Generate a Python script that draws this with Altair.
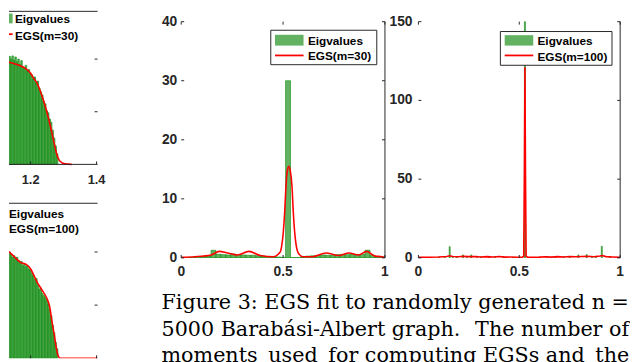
import altair as alt
import pandas as pd

GREEN = "#62b262"
EDGE = "#0e8a0e"
RED = "#ff0000"
INK = "#262626"
SANS = "Liberation Sans"
SERIF = "DejaVu Serif"

# ---------------- data ----------------
# middle panel (m = 30): 41 equal-width bins on [0, 1]
p1_bin_count = 41
p1_bar_heights = [0.05, 0.05, 0.1, 0.2, 0.25, 0.3, 1.28, 0.6, 0.55, 0.5,
                  0.65, 0.45, 0.5, 0.45, 0.45, 0.35, 0.3, 0.25, 0.2, 0.15,
                  0.1, 30.0, 0.05, 0.05, 0.1, 0.3, 0.35, 0.4, 0.5, 0.45,
                  0.4, 0.55, 0.6, 0.55, 0.6, 0.55, 0.6, 1.3, 0.45, 0.2, 0.15]
p1_egs_x = [0.0, 0.066, 0.147, 0.187, 0.227, 0.275, 0.332, 0.388, 0.452, 0.485,
            0.493, 0.501, 0.508, 0.514, 0.521, 0.528, 0.535, 0.544, 0.550, 0.557,
            0.565, 0.573, 0.597, 0.646, 0.710, 0.774, 0.823, 0.871, 0.911, 0.952,
            0.985, 1.0]
p1_egs_y = [0.1, 0.2, 0.5, 1.1, 0.83, 0.5, 1.1, 0.4, 0.2, 0.95,
            2.0, 4.3, 7.8, 12.0, 14.8, 15.5, 14.8, 12.0, 7.8, 4.3,
            2.0, 0.95, 0.2, 0.2, 0.83, 0.4, 0.83, 0.5, 1.1, 0.3,
            0.2, 0.05]

# right panel (m = 100): narrow bins
p2_bin_width = 0.005
p2_bar_x = [0.06, 0.10, 0.13, 0.155, 0.17, 0.19, 0.221, 0.24, 0.262, 0.29,
            0.31, 0.35, 0.38, 0.42, 0.47, 0.528, 0.60, 0.64, 0.68, 0.72,
            0.75, 0.793, 0.834, 0.86, 0.88, 0.909, 0.95]
p2_bar_h = [0.4, 0.6, 0.8, 7.1, 1.0, 0.9, 1.9, 0.8, 1.9, 1.1,
            0.7, 0.9, 0.6, 0.8, 0.5, 150.0, 0.5, 0.7, 0.9, 0.8,
            0.6, 1.9, 2.1, 0.9, 1.0, 7.3, 0.6]
p2_egs_x = [0.0, 0.05, 0.10, 0.14, 0.155, 0.17, 0.20, 0.22, 0.25, 0.28,
            0.31, 0.34, 0.37, 0.40, 0.43, 0.46, 0.49, 0.515, 0.522, 0.525,
            0.528, 0.531, 0.534, 0.541, 0.57, 0.60, 0.63, 0.66, 0.69, 0.72,
            0.75, 0.78, 0.81, 0.84, 0.87, 0.90, 0.91, 0.93, 0.96, 1.0]
p2_egs_y = [0.3, 0.4, 0.6, 0.9, 1.3, 0.9, 0.7, 1.0, 0.8, 0.9,
            0.6, 0.8, 0.6, 0.9, 0.5, 0.6, 0.4, 0.5, 1.0, 50.0,
            121.0, 50.0, 1.0, 0.5, 0.4, 0.5, 0.7, 0.5, 0.8, 0.6,
            0.9, 0.7, 0.9, 1.0, 0.7, 1.2, 1.5, 0.8, 0.6, 0.4]

# left (cut-off) panels of the previous figure
left_bin_start = 1.134
left_bin_width = 0.0045
tl_bar_h = [2.05, 2.0, 2.06, 1.98, 2.04, 1.95, 2.0, 1.9, 1.97, 1.85,
            1.83, 1.88, 1.78, 1.8, 1.72, 1.7, 1.62, 1.66, 1.55, 1.58,
            1.45, 1.38, 1.32, 1.2, 1.15, 1.02, 0.98, 0.86, 0.8, 0.65,
            0.5, 0.35, 0.2]
bl_bar_h = [2.0, 1.95, 1.9, 1.93, 1.86, 1.9, 1.84, 1.8, 1.82, 1.74,
            1.78, 1.72, 1.75, 1.68, 1.66, 1.6, 1.55, 1.48, 1.5, 1.38,
            1.3, 1.32, 1.22, 1.18, 1.14, 1.1, 1.02, 0.92, 0.8, 0.62,
            0.48, 0.3, 0.18]
tl_egs_x = [1.1104, 1.1403, 1.1701, 1.185, 1.2, 1.2099, 1.2199, 1.2299, 1.2398,
            1.2498, 1.2597, 1.2697, 1.2776, 1.2876, 1.3045, 1.3244]
tl_egs_y = [1.98, 1.93, 1.87, 1.82, 1.73, 1.63, 1.54, 1.38, 1.2,
            0.98, 0.73, 0.45, 0.23, 0.07, 0.01, 0.0]
bl_egs_x = [1.1104, 1.1303, 1.1453, 1.1602, 1.1701, 1.185, 1.2, 1.2099, 1.2199,
            1.2348, 1.2498, 1.2577, 1.2647, 1.2716, 1.2776, 1.2846, 1.2896, 1.403]
bl_egs_y = [2.06, 2.02, 1.94, 1.85, 1.80, 1.77, 1.68, 1.56, 1.43,
            1.28, 1.12, 0.97, 0.69, 0.44, 0.2, 0.03, 0.0, 0.0]

p1_yticks = [0, 10, 20, 30, 40]
p2_yticks = [0, 50, 100, 150]
mid_xticks = [0, 0.5, 1]
mid_xlabels = ["0", "0.5", "1"]
left_xticks = [1.2, 1.4]
left_xlabels = ["1.2", "1.4"]
left_yticks = [1, 2]

# caption (justified in the paper: a few wider gaps kept with thin spaces)
caption_lines = [
    "Figure 3: EGS fit to randomly generated n =",
    "5000 Barabási-Albert graph.\u2009\u2009 The number of",
    "moments\u2009 used\u2009 for computing EGSs and\u2009 the",
]


# ---------------- helpers ----------------
def bins_df(lefts, heights, width):
    return pd.DataFrame({"x0": lefts, "x1": [a + width for a in lefts],
                         "h": heights, "z": [0] * len(heights)})


def one():
    return alt.Chart(pd.DataFrame({"a": [0]}))


def rule_v(x, y0, y1, color=INK, w=1):
    return one().mark_rule(color=color, strokeWidth=w).encode(
        x=alt.value(x), y=alt.value(y0), y2=alt.value(y1))


def rule_h(y, x0, x1, color=INK, w=1):
    return one().mark_rule(color=color, strokeWidth=w).encode(
        y=alt.value(y), x=alt.value(x0), x2=alt.value(x1))


def box(x0, x1, y0, y1, fill, stroke=None):
    kw = dict(fill=fill)
    if stroke:
        kw.update(stroke=stroke, strokeWidth=1)
    else:
        kw.update(strokeWidth=0)
    return one().mark_rect(**kw).encode(
        x=alt.value(x0), x2=alt.value(x1), y=alt.value(y0), y2=alt.value(y1))


def label(txt, x, y, size=12):
    return one().mark_text(text=txt, align="left", baseline="alphabetic",
                           font=SANS, fontSize=size, fontWeight="bold",
                           color="black").encode(x=alt.value(x), y=alt.value(y))


def legend(bx0, bx1, by0, by1, px0, px1, py0, py1, ly, tx, t1y, t2y, name, stroke=INK):
    parts = [box(bx0, bx1, by0, by1, "white", stroke)]
    if px1 > px0:
        parts.append(box(px0, px1, py0, py1, GREEN))
        parts.append(rule_h(ly, px0, px1, RED, 1.8))
    parts.append(label("Eigvalues", tx, t1y))
    parts.append(label(name, tx, t2y))
    return parts


def mid_panel(bars, egs_x, egs_y, ydom, yticks, W, H, top, lpad, leg, interp, extra=()):
    xs = alt.Scale(domain=[0, 1], range=[0, W], nice=False)
    ys = alt.Scale(domain=ydom, range=[H, top], nice=False)
    ax_x = alt.Axis(values=mid_xticks, title=None, grid=False, ticks=False,
                    labels=False, domainColor=INK)
    ax_y = alt.Axis(values=yticks, title=None, grid=False, ticks=False,
                    labels=False, domainColor=INK)
    bar = alt.Chart(bars).mark_rect(fill=GREEN, stroke=EDGE, strokeWidth=0.6, clip=True).encode(
        x=alt.X("x0:Q", scale=xs, axis=ax_x), x2="x1:Q",
        y=alt.Y("h:Q", scale=ys, axis=ax_y), y2="z:Q")
    line = alt.Chart(pd.DataFrame({"x": egs_x, "y": egs_y})).mark_line(
        color=RED, strokeWidth=1.6, clip=True, interpolate=interp).encode(
        x=alt.X("x:Q", scale=xs, axis=None), y=alt.Y("y:Q", scale=ys, axis=None))
    ydf = pd.DataFrame({"v": yticks, "t": [str(v) for v in yticks]})
    xdf = pd.DataFrame({"u": mid_xticks, "t": mid_xlabels})
    tl = alt.Chart(ydf).mark_rule(color=INK).encode(
        y=alt.Y("v:Q", scale=ys, axis=None), x=alt.value(0), x2=alt.value(3))
    tr = alt.Chart(ydf).mark_rule(color=INK).encode(
        y=alt.Y("v:Q", scale=ys, axis=None), x=alt.value(W - 3), x2=alt.value(W))
    tt = alt.Chart(xdf).mark_rule(color=INK).encode(
        x=alt.X("u:Q", scale=xs, axis=None), y=alt.value(top), y2=alt.value(top + 3))
    tb = alt.Chart(xdf).mark_rule(color=INK).encode(
        x=alt.X("u:Q", scale=xs, axis=None), y=alt.value(H - 3), y2=alt.value(H))
    xl_ = alt.Chart(xdf).mark_text(font=SANS, fontSize=14, fontWeight="bold", color=INK,
                                   align="center", baseline="middle").encode(
        x=alt.X("u:Q", scale=xs, axis=None), y=alt.value(H + 14), text="t:N")
    yl_ = alt.Chart(ydf).mark_text(font=SANS, fontSize=14, fontWeight="bold", color=INK,
                                   align="right", baseline="middle").encode(
        y=alt.Y("v:Q", scale=ys, axis=None), x=alt.value(-lpad), text="t:N")
    frame = rule_v(W, top, H)
    layers = [bar, line, tl, tr, tt, tb, frame, xl_, yl_] + legend(*leg) + list(extra)
    return alt.layer(*layers).properties(width=W, height=H)


# ---------------- middle panels ----------------
TOP = 11
H_MID = 251
p1_lefts = [k / p1_bin_count for k in range(p1_bin_count)]
p1 = mid_panel(bins_df(p1_lefts, p1_bar_heights, 1 / p1_bin_count),
               p1_egs_x, p1_egs_y, [0, 40], p1_yticks, 207, H_MID, TOP, 4,
               (91, 198.7, 19.7, 54.7, 95.3, 124.3, 24.3, 35.3, 45.3, 128.7, 34.3, 50.3, "EGS(m=30)"),
               "monotone",
               extra=[one().mark_text(text=caption_lines, lineHeight=27, align="left",
                                      baseline="alphabetic", font=SERIF, fontSize=21,
                                      color="black").encode(x=alt.value(-20), y=alt.value(303))])

p2_lefts = [c - p2_bin_width / 2 for c in p2_bar_x]
p2 = mid_panel(bins_df(p2_lefts, p2_bar_h, p2_bin_width),
               p2_egs_x, p2_egs_y, [0, 150], p2_yticks, 205, H_MID, TOP, 6,
               (83.3, 196.7, 21, 55.3, 87.7, 116.7, 24.7, 35.3, 45.3, 121, 34.3, 51.3, "EGS(m=100)"),
               "linear")

# ---------------- left (cut-off) panels ----------------
LW = 90
xl = alt.Scale(domain=[1.1343, 1.403], range=[0, LW], nice=False)
ytl = alt.Scale(domain=[0, 2.916], range=[156, 0], nice=False)
ybl = alt.Scale(domain=[0, 2.926], range=[353, 195], nice=False)
left_lefts = [left_bin_start + k * left_bin_width for k in range(len(tl_bar_h))]
ax_left = alt.Axis(title=None, grid=False, ticks=False, labels=False, domainColor=INK)

tl_bars = alt.Chart(bins_df(left_lefts, tl_bar_h, left_bin_width)).mark_rect(
    fill=GREEN, stroke=EDGE, strokeWidth=0.7, clip=True).encode(
    x=alt.X("x0:Q", scale=xl, axis=None), x2="x1:Q",
    y=alt.Y("h:Q", scale=ytl, axis=None), y2="z:Q")
bl_bars = alt.Chart(bins_df(left_lefts, bl_bar_h, left_bin_width)).mark_rect(
    fill=GREEN, stroke=EDGE, strokeWidth=0.7, clip=True).encode(
    x=alt.X("x0:Q", scale=xl, axis=ax_left), x2="x1:Q",
    y=alt.Y("h:Q", scale=ybl, axis=None), y2="z:Q")
tl_line = alt.Chart(pd.DataFrame({"x": tl_egs_x, "y": tl_egs_y})).mark_line(
    color=RED, strokeWidth=1.6, clip=True, interpolate="monotone").encode(
    x=alt.X("x:Q", scale=xl, axis=None), y=alt.Y("y:Q", scale=ytl, axis=None))
bl_line = alt.Chart(pd.DataFrame({"x": bl_egs_x, "y": bl_egs_y})).mark_line(
    color=RED, strokeWidth=1.6, clip=True, interpolate="monotone").encode(
    x=alt.X("x:Q", scale=xl, axis=None), y=alt.Y("y:Q", scale=ybl, axis=None))

lyt = pd.DataFrame({"v": left_yticks})
lxt = pd.DataFrame({"u": left_xticks, "t": left_xlabels})
tl_rt = alt.Chart(lyt).mark_rule(color=INK).encode(
    y=alt.Y("v:Q", scale=ytl, axis=None), x=alt.value(LW - 3), x2=alt.value(LW))
bl_rt = alt.Chart(lyt).mark_rule(color=INK).encode(
    y=alt.Y("v:Q", scale=ybl, axis=None), x=alt.value(LW - 3), x2=alt.value(LW))
tl_bt = alt.Chart(lxt).mark_rule(color=INK).encode(
    x=alt.X("u:Q", scale=xl, axis=None), y=alt.value(153), y2=alt.value(156))
bl_bt = alt.Chart(lxt).mark_rule(color=INK).encode(
    x=alt.X("u:Q", scale=xl, axis=None), y=alt.value(350), y2=alt.value(353))
tl_lab = alt.Chart(lxt).mark_text(font=SANS, fontSize=13, fontWeight="bold", color=INK,
                                  baseline="middle").encode(
    x=alt.X("u:Q", scale=xl, axis=None), y=alt.value(172), text="t:N")

left_layers = [tl_bars, tl_line, bl_bars, bl_line,
               rule_h(156, 0, LW), tl_rt, bl_rt, tl_bt, bl_bt, tl_lab]
left_layers += legend(0, 89, 0, 35, 0, 3.7, 2.7, 12.7, 23.7, 6, 12.7, 29.3, "EGS(m=30)", None)
left_layers += legend(0, 89, 195, 232, 0, 0, 0, 0, 0, 0, 210.3, 225.3, "EGS(m=100)", None)
left_layers += [rule_h(0.5, 0, LW), rule_h(195.5, 0, LW)]
left = alt.layer(*left_layers).resolve_scale(y="independent").properties(width=141, height=353)

chart = alt.hconcat(left, p1, p2, spacing=34, bounds="flush").properties(
    padding=0, background="white").configure_view(stroke=None)

chart.save("out.html", embed_options={"renderer": "svg", "actions": False})
